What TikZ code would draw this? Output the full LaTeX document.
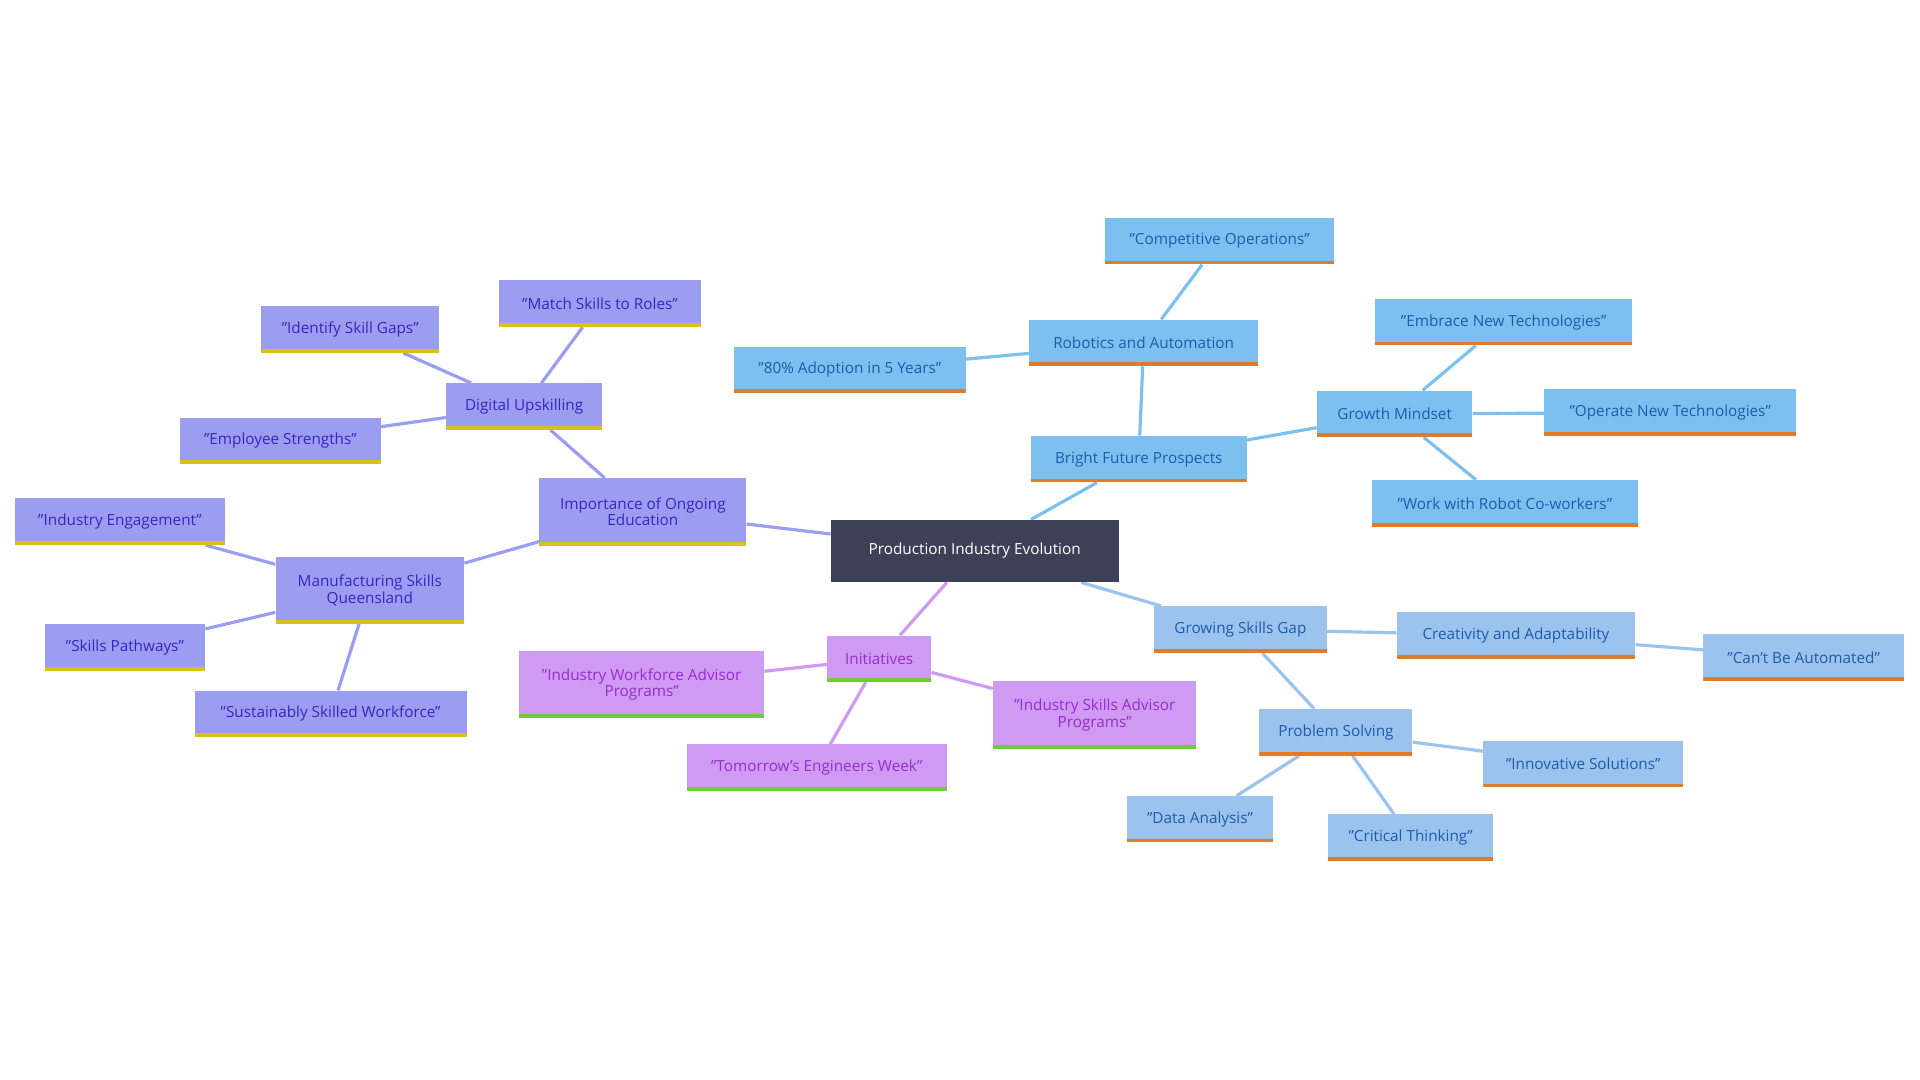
\documentclass[tikz,border=0pt]{standalone}
\usepackage{fontspec}
\setmainfont{Open Sans}
\usetikzlibrary{backgrounds}
\definecolor{rootc}{HTML}{3D4157}
\definecolor{skyf}{HTML}{7CC0F0}
\definecolor{skyt}{HTML}{1E5BB0}
\definecolor{ltf}{HTML}{9BC3EE}
\definecolor{purf}{HTML}{9B9EF0}
\definecolor{purt}{HTML}{3427C0}
\definecolor{vilf}{HTML}{CF9AF2}
\definecolor{vilt}{HTML}{9A2BD0}
\definecolor{orb}{HTML}{E07B2A}
\definecolor{yeb}{HTML}{D8C21A}
\definecolor{grb}{HTML}{6CCB3A}
\tikzset{
 x=1pt,y=-1pt,
 box/.style n args={3}{draw=none,fill=#1,text=#2,inner sep=0pt,minimum height=38pt,align=center,
   font=\fontsize{12.5}{13.5}\selectfont,
   path picture={\fill[#3] ([yshift=3pt]path picture bounding box.south west) rectangle (path picture bounding box.south east);}},
 sky/.style={box={skyf}{skyt}{orb},minimum width=#1},
 lt/.style={box={ltf}{skyt}{orb},minimum width=#1},
 pur/.style={box={purf}{purt}{yeb},minimum width=#1},
 vil/.style={box={vilf}{vilt}{grb},minimum width=#1},
 ed/.style={line width=2.6pt,draw=#1},
}
\begin{document}
\begin{tikzpicture}
\useasboundingbox (0,0) rectangle (1568,882);
\node[fill=rootc,text=white,minimum width=235pt,minimum height=51pt,font=\fontsize{12.5}{13.5}\selectfont] (root) at (796,450) {Production Industry Evolution};
\node[sky=176pt] (bfp) at (930,375) {Bright Future Prospects};
\node[sky=187pt] (rob) at (934,280) {Robotics and Automation};
\node[sky=187pt] (comp) at (996,197) {"Competitive Operations"};
\node[sky=189pt] (adop) at (694,302) {"80\% Adoption in 5 Years"};
\node[sky=127pt] (gm) at (1139,338) {Growth Mindset};
\node[sky=210pt] (emb) at (1228,263) {"Embrace New Technologies"};
\node[sky=206pt] (oper) at (1364,337) {"Operate New Technologies"};
\node[sky=217pt] (work) at (1229,411) {"Work with Robot Co-workers"};
\node[lt=141pt] (gsg) at (1013,514) {Growing Skills Gap};
\node[lt=195pt] (cre) at (1238,519) {Creativity and Adaptability};
\node[lt=164pt] (cant) at (1473,537) {"Can't Be Automated"};
\node[lt=125pt] (ps) at (1091,598) {Problem Solving};
\node[lt=163pt] (inn) at (1293,624) {"Innovative Solutions"};
\node[lt=119pt] (da) at (980,669) {"Data Analysis"};
\node[lt=135pt] (ct) at (1152,684) {"Critical Thinking"};
\node[pur=169pt,minimum height=55pt] (ioe) at (525,418) {Importance of Ongoing\\Education};
\node[pur=127pt] (du) at (428,332) {Digital Upskilling};
\node[pur=165pt] (msr) at (490,248) {"Match Skills to Roles"};
\node[pur=145pt] (isg) at (286,269) {"Identify Skill Gaps"};
\node[pur=164pt] (es) at (229,360) {"Employee Strengths"};
\node[pur=154pt,minimum height=55pt] (msq) at (302,482) {Manufacturing Skills\\Queensland};
\node[pur=171pt] (ie) at (98,426) {"Industry Engagement"};
\node[pur=131pt] (sp) at (102,529) {"Skills Pathways"};
\node[pur=222pt] (ssw) at (270,583) {"Sustainably Skilled Workforce"};
\node[vil=85pt] (ini) at (718,538) {Initiatives};
\node[vil=200pt,minimum height=55pt] (iwa) at (524,559) {"Industry Workforce Advisor\\Programs"};
\node[vil=166pt,minimum height=55pt] (isa) at (894,584) {"Industry Skills Advisor\\Programs"};
\node[vil=212pt] (tew) at (667,627) {"Tomorrow's Engineers Week"};
\begin{scope}[on background layer]
\draw[ed=skyf] (root)--(bfp) (bfp)--(rob) (rob)--(comp) (rob)--(adop) (bfp)--(gm) (gm)--(emb) (gm)--(oper) (gm)--(work);
\draw[ed=ltf] (root)--(gsg) (gsg)--(cre) (cre)--(cant) (gsg)--(ps) (ps)--(inn) (ps)--(da) (ps)--(ct);
\draw[ed=purf] (root)--(ioe) (ioe)--(du) (du)--(msr) (du)--(isg) (du)--(es) (ioe)--(msq) (msq)--(ie) (msq)--(sp) (msq)--(ssw);
\draw[ed=vilf] (root)--(ini) (ini)--(iwa) (ini)--(isa) (ini)--(tew);
\end{scope}
\end{tikzpicture}
\end{document}
